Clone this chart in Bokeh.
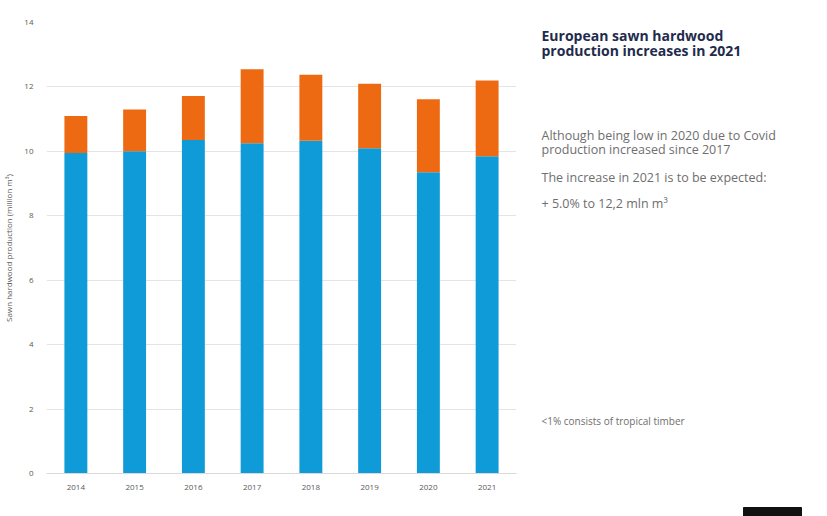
from bokeh.plotting import figure
from bokeh.layouts import row
from bokeh.models import Legend, LegendItem, FixedTicker, Range1d
from bokeh.core.properties import value
from bokeh.embed import file_html
from bokeh.resources import INLINE

years = ["2014", "2015", "2016", "2017", "2018", "2019", "2020", "2021"]
eu27_uk = [9.95, 10.0, 10.35, 10.25, 10.33, 10.1, 9.35, 9.85]
other_europe = [1.15, 1.3, 1.37, 2.3, 2.05, 2.0, 2.27, 2.35]
y_ticks = [0, 2, 4, 6, 8, 10, 12, 14]

BLUE = "#0E9BD8"
ORANGE = "#EE6A12"
FONT = "Open Sans"
H = 516
H1 = 508
W1 = 512

p = figure(x_range=years, y_range=Range1d(0, 14), width=W1, height=H1,
           frame_width=470, frame_height=451,
           min_border_left=37, min_border_right=5, min_border_top=22, min_border_bottom=35,
           output_backend="svg", toolbar_location=None)
p.outline_line_color = None

src = {"years": years, "eu": eu27_uk, "other": other_europe}
r = p.vbar_stack(["eu", "other"], x="years", width=0.39, color=[BLUE, ORANGE],
                 source=src, line_color=None)

p.yaxis.ticker = FixedTicker(ticks=y_ticks)
p.yaxis.axis_line_color = None
p.yaxis.major_tick_line_color = None
p.yaxis.minor_tick_line_color = None
p.yaxis.major_tick_out = 0
p.yaxis.major_tick_in = 0
p.yaxis.major_label_text_font_size = "8px"
p.yaxis.major_label_text_color = "#595959"
p.yaxis.major_label_text_font = FONT
p.yaxis.major_label_standoff = 13
p.yaxis.axis_label = "Sawn hardwood production (million m³)"
p.yaxis.axis_label_text_font_size = "8px"
p.yaxis.axis_label_text_font_style = "normal"
p.yaxis.axis_label_text_color = "#595959"
p.yaxis.axis_label_text_font = FONT
p.yaxis.axis_label_standoff = 7

p.xaxis.axis_line_color = "#d9d9d9"
p.xaxis.major_tick_line_color = None
p.xaxis.minor_tick_line_color = None
p.xaxis.major_tick_out = 0
p.xaxis.major_tick_in = 0
p.xaxis.major_label_text_font_size = "8px"
p.xaxis.major_label_text_color = "#595959"
p.xaxis.major_label_text_font = FONT
p.xaxis.major_label_standoff = 11

p.xgrid.grid_line_color = None
p.ygrid.grid_line_color = "#e4e4e4"
p.ygrid.ticker = FixedTicker(ticks=y_ticks)

legend = Legend(items=[LegendItem(label="EU27+UK", renderers=[r[0]]),
                       LegendItem(label="Other europe", renderers=[r[1]])],
                orientation="horizontal", location="center",
                label_text_font_size="8px", label_text_color="#595959", label_text_font=FONT,
                glyph_width=5, glyph_height=5, label_height=8, label_width=10,
                spacing=10, padding=0, margin=0,
                border_line_color=None, background_fill_alpha=0, label_standoff=3)
p.add_layout(legend, "below")

# Text panel on the right (data coordinates = page pixels)
X0 = 8 + W1
W2 = 827 - X0
TOP = 22
t = figure(width=W2, height=H, frame_width=W2, frame_height=H - TOP,
           x_range=Range1d(X0, 827), y_range=Range1d(H, TOP),
           min_border=0, min_border_top=TOP, output_backend="svg", toolbar_location=None)
t.axis.visible = False
t.grid.visible = False
t.outline_line_color = None

def lab(x, y, text, size, color, bold=False):
    t.text(x=[x], y=[y], text=[text], text_font=value(FONT), text_font_size=size,
           text_color=color, text_font_style="bold" if bold else "normal",
           text_baseline="top", text_align="left")

lab(540, 25, "European  sawn hardwood", "14px", "#1f2b4d", True)
lab(540, 40, "production  increases in 2021", "14px", "#1f2b4d", True)
lab(540, 126, "Although being low in 2020 due to Covid", "12.5px", "#6e6e6e")
lab(540, 140, "production increased since 2017", "12.5px", "#6e6e6e")
lab(540, 168, "The increase in 2021 is to be expected:", "12.5px", "#6e6e6e")
lab(540, 194, "+ 5.0% to 12,2 mln m³", "12.5px", "#6e6e6e")
lab(540, 413, "<1% consists of tropical timber", "10px", "#6e6e6e")

t.quad(left=[742], right=[800], top=[507], bottom=[H], color="#111111")

open("out.html", "w").write(file_html(row(p, t), INLINE))
